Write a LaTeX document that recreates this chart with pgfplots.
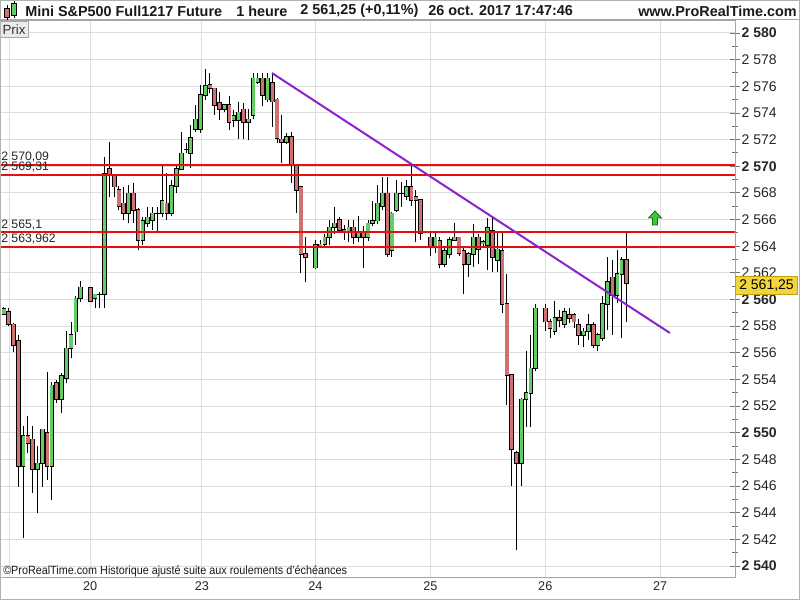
\documentclass[border=0pt]{standalone}
\usepackage{fontspec}
\setmainfont{Liberation Sans}
\usepackage{pgfplots}
\pgfplotsset{compat=1.18}
\usepackage{pgfplotstable}
\definecolor{cgreen}{RGB}{100,204,100}
\definecolor{cred}{RGB}{208,112,112}
\definecolor{tline}{RGB}{140,35,200}
\definecolor{rline}{RGB}{228,16,16}
\definecolor{gridc}{RGB}{222,222,222}
\definecolor{framec}{RGB}{165,165,165}
\definecolor{ybox}{RGB}{242,212,60}
\definecolor{yboxd}{RGB}{190,160,20}
\definecolor{arrowg}{RGB}{60,200,60}
\definecolor{arrowgd}{RGB}{20,110,20}

\pgfplotstableread{
k o h l c
0 2558.91 2559.45 2558.80 2559.31
4 2547.51 2550.51 2542.09 2549.76
7 2547.26 2549.01 2543.96 2547.71
8 2547.71 2550.30 2545.96 2550.26
10 2547.51 2553.84 2544.96 2553.56
12 2552.51 2554.51 2551.51 2554.29
13 2554.09 2557.64 2553.70 2556.34
14 2556.34 2558.34 2555.59 2557.34
15 2557.59 2560.30 2556.59 2560.09
16 2560.09 2561.39 2559.84 2560.91
19 2560.09 2560.40 2559.34 2560.39
20 2560.37 2560.60 2559.34 2560.37
21 2560.40 2570.72 2559.35 2569.42
26 2566.47 2568.60 2565.72 2567.97
29 2564.47 2566.22 2564.10 2565.92
30 2565.72 2566.97 2565.47 2566.17
31 2565.97 2566.97 2565.22 2566.47
32 2566.47 2566.97 2564.97 2566.47
33 2566.47 2570.05 2566.20 2567.42
35 2566.47 2568.97 2566.30 2568.52
36 2568.52 2570.10 2567.97 2569.80
37 2569.80 2572.60 2569.72 2570.97
38 2571.27 2571.72 2570.97 2571.27
39 2570.97 2573.10 2569.85 2572.10
40 2572.80 2574.60 2572.60 2573.52
41 2572.80 2576.10 2572.50 2575.35
42 2575.35 2577.30 2575.00 2576.02
46 2574.27 2574.70 2574.10 2574.60
48 2573.47 2574.20 2572.97 2573.80
49 2573.47 2574.85 2572.05 2574.05
51 2573.30 2574.30 2571.97 2573.52
52 2573.85 2577.00 2573.52 2576.60
53 2576.30 2577.00 2576.20 2576.60
55 2575.00 2577.00 2574.80 2576.60
59 2571.80 2572.47 2571.70 2572.22
65 2562.40 2564.47 2562.30 2564.09
66 2563.97 2564.50 2563.90 2564.14
67 2564.14 2564.90 2563.90 2564.67
68 2564.67 2566.00 2564.10 2565.42
69 2565.42 2566.97 2564.90 2565.72
72 2565.17 2566.00 2564.30 2565.42
74 2564.67 2566.30 2564.30 2565.02
76 2564.67 2566.00 2564.40 2565.72
77 2565.72 2567.40 2565.50 2565.92
78 2565.92 2568.60 2565.70 2567.22
79 2567.02 2569.20 2566.70 2567.97
81 2563.72 2566.60 2563.20 2566.47
82 2566.72 2569.00 2566.60 2567.97
83 2567.97 2568.80 2566.97 2567.97
84 2567.77 2569.00 2567.50 2568.47
90 2563.97 2565.00 2563.47 2564.67
92 2562.67 2563.97 2562.47 2563.67
93 2563.40 2564.70 2563.10 2564.47
94 2564.47 2565.77 2564.40 2564.67
97 2562.67 2563.60 2561.70 2563.40
98 2563.40 2565.70 2562.47 2564.67
100 2564.20 2564.50 2563.90 2564.30
101 2564.10 2566.10 2562.20 2565.40
103 2562.97 2565.10 2562.10 2563.77
108 2547.72 2552.60 2545.97 2552.50
109 2552.50 2556.10 2550.47 2553.00
110 2553.00 2557.34 2550.47 2554.84
111 2554.84 2559.67 2554.60 2559.34
115 2557.64 2559.90 2557.30 2558.60
117 2558.17 2559.34 2557.84 2559.09
121 2557.34 2557.84 2556.47 2557.60
122 2557.60 2558.90 2556.97 2558.09
124 2556.60 2557.50 2556.10 2557.34
125 2557.09 2560.30 2556.90 2559.67
126 2559.67 2563.20 2557.70 2561.34
128 2560.34 2563.70 2559.70 2561.92
129 2561.92 2563.20 2557.10 2562.97
}\greentab

\pgfplotstableread{
k o h l c
1 2559.09 2559.34 2558.00 2558.14
2 2558.14 2558.20 2556.09 2556.59
3 2556.89 2557.33 2545.96 2547.51
5 2549.76 2551.26 2548.46 2549.21
6 2549.51 2550.51 2545.46 2547.26
9 2550.01 2554.59 2546.46 2547.51
11 2553.76 2553.96 2552.26 2552.51
18 2560.89 2560.95 2559.84 2559.89
22 2569.80 2571.85 2567.72 2569.30
23 2569.35 2569.40 2567.72 2568.47
24 2568.22 2568.52 2566.70 2567.02
25 2567.22 2568.47 2565.97 2566.47
27 2567.97 2568.72 2565.72 2566.72
28 2566.72 2566.90 2563.72 2564.47
34 2567.22 2569.47 2565.97 2566.47
43 2576.10 2577.00 2575.47 2575.85
44 2575.85 2575.90 2573.85 2574.60
45 2574.77 2575.60 2573.47 2574.27
47 2574.60 2575.30 2572.72 2573.30
50 2574.27 2574.77 2572.02 2573.30
54 2576.60 2577.00 2574.52 2575.35
56 2576.27 2577.00 2572.97 2574.85
57 2575.02 2575.10 2571.72 2572.10
58 2572.02 2573.85 2570.22 2571.80
60 2572.22 2572.60 2568.72 2570.10
61 2570.10 2570.20 2566.47 2568.22
62 2568.47 2568.50 2561.97 2563.40
63 2563.40 2564.72 2561.35 2563.17
70 2565.97 2566.22 2565.00 2565.22
71 2565.22 2565.60 2564.50 2565.10
73 2565.42 2566.00 2564.20 2564.67
75 2565.10 2565.50 2562.40 2564.67
80 2567.97 2569.20 2563.20 2563.40
85 2568.47 2570.00 2567.00 2567.47
86 2567.72 2568.20 2564.30 2567.47
87 2567.47 2567.50 2564.50 2564.97
89 2564.67 2565.00 2563.30 2563.97
91 2564.42 2564.70 2562.34 2562.67
95 2564.67 2564.70 2563.30 2563.47
96 2563.67 2563.90 2560.40 2562.67
99 2564.67 2564.90 2562.67 2563.77
102 2565.17 2566.10 2562.10 2563.17
104 2563.67 2565.07 2558.97 2559.67
105 2559.67 2561.90 2552.09 2554.34
106 2554.34 2554.40 2545.97 2548.77
107 2548.47 2548.60 2541.20 2547.72
113 2559.34 2559.67 2557.60 2558.34
114 2558.34 2558.50 2557.10 2557.84
116 2558.60 2559.20 2557.90 2558.45
118 2558.84 2559.34 2558.27 2558.60
119 2558.84 2559.00 2557.84 2558.34
120 2558.09 2558.50 2556.60 2557.34
123 2558.09 2558.30 2556.34 2556.60
127 2561.67 2562.97 2557.34 2560.34
130 2562.97 2565.10 2558.34 2561.25
}\redtab

\pgfplotsset{
  candle/.style={only marks, mark=*, mark size=0pt, mark options={draw=none, fill=none},
    error bars/.cd, y dir=plus, y explicit, error mark=none},
}

\begin{document}
\begin{tikzpicture}
\useasboundingbox (0,0) rectangle (600pt,450pt);
\fill[white] (0,0) rectangle (600pt,450pt);
\begin{axis}[
  at={(0pt,17.25pt)}, anchor=south west, scale only axis,
  width=551.25pt, height=417.75pt,
  xmin=-0.835, xmax=152.61, ymin=2539.18, ymax=2580.97,
  clip=false,
  axis line style={draw=framec, line width=0.75pt},
  xtick={18,41.3,65,89,113,137}, xticklabels={20,23,24,25,26,27},
  extra x ticks={1.1}, extra x tick labels={},
  extra x tick style={grid=major, xtick style={draw=none}},
  xmajorgrids, ymajorgrids,
  grid style={draw=gridc, line width=0.75pt},
  xtick style={draw=none},
  ytick={2540,2542,...,2580},
  yticklabels={\textbf{2 540},2 542,2 544,2 546,2 548,\textbf{2 550},2 552,2 554,2 556,2 558,\textbf{2 560},2 562,2 564,2 566,2 568,\textbf{2 570},2 572,2 574,2 576,2 578,\textbf{2 580}},
  minor ytick={2539,2541,...,2579},
  ytick pos=right, yticklabel pos=right,
  ytick align=center, major tick length=7pt, minor tick length=4pt,
  ytick style={draw=black!55, line width=0.6pt},
  tick label style={font=\fontsize{10.5}{12}\selectfont, text=black!85},
  yticklabel style={xshift=-2pt},
  xticklabel style={font=\fontsize{9.5}{11}\selectfont},
]
% wicks
\addplot[candle, error bar style={line width=0.75pt, black}]
  table[x=k, y=l, y error plus expr=\thisrow{h}-\thisrow{l}] \greentab;
\addplot[candle, error bar style={line width=0.75pt, black}]
  table[x=k, y=l, y error plus expr=\thisrow{h}-\thisrow{l}] \redtab;
% body outlines
\addplot[candle, error bar style={line width=3.5pt, black}]
  table[x=k, y expr=\thisrow{o}-0.055, y error plus expr=\thisrow{c}-\thisrow{o}+0.11] \greentab;
\addplot[candle, error bar style={line width=3.5pt, black}]
  table[x=k, y expr=\thisrow{c}-0.055, y error plus expr=\thisrow{o}-\thisrow{c}+0.11] \redtab;
% body fills
\addplot[candle, error bar style={line width=2.35pt, cgreen}]
  table[x=k, y=o, y error plus expr=\thisrow{c}-\thisrow{o}] \greentab;
\addplot[candle, error bar style={line width=2.35pt, cred}]
  table[x=k, y=c, y error plus expr=\thisrow{o}-\thisrow{c}] \redtab;
% horizontal levels
\addplot[rline, line width=1.5pt] coordinates {(-0.835,2570.09) (152.61,2570.09)};
\addplot[rline, line width=1.5pt] coordinates {(-0.835,2569.31) (152.61,2569.31)};
\addplot[rline, line width=1.5pt] coordinates {(-0.835,2565.1) (152.61,2565.1)};
\addplot[rline, line width=1.5pt] coordinates {(-0.835,2563.962) (152.61,2563.962)};
% trend line
\addplot[tline, line width=1.5pt] coordinates {(55.95,2576.99) (139.0,2557.49)};
\end{axis}

\begin{scope}[shift={(0pt,450pt)}, x=0.75pt, y=-0.75pt]
% title bar
\draw[framec, line width=0.75pt] (0,20) -- (800,20);
\draw[black, line width=0.6pt] (7,5) -- (7,20);
\filldraw[fill=cred, draw=black, line width=0.6pt] (4.5,8.5) rectangle (9.5,17.5);
\draw[black, line width=0.6pt] (14,1) -- (14,18);
\filldraw[fill=cgreen, draw=black, line width=0.6pt] (11.5,3.5) rectangle (16.5,15.5);
\begin{scope}[every node/.style={inner sep=0pt, text=black!90, font=\fontsize{10.8}{13}\selectfont\bfseries}]
\node[anchor=west] at (25,11) {Mini S\&P500 Full1217 Future};
\node[anchor=west] at (236,11) {1 heure};
\node[anchor=west] at (300,11) {2 561,25 (+0,11\%)};
\node[anchor=west] at (428,11) {26 oct. 2017 17:47:46};
\node[anchor=east] at (797,11) {www.ProRealTime.com};
\end{scope}
% Prix box
\filldraw[fill=black!8, draw=black!35, line width=0.6pt] (0.5,21) rectangle (28,37);
\node[inner sep=0pt, font=\fontsize{10}{12}\selectfont, text=black!80] at (14,29.5) {Prix};
% level labels
\begin{scope}[every node/.style={inner sep=0pt, anchor=south west, text=black!85, font=\fontsize{9.2}{11}\selectfont}]
\node at (1,162.5) {2 570,09};
\node at (1,172) {2 569,31};
\node at (1,230) {2 565,1};
\node at (1,244) {2 563,962};
\end{scope}
% footer note
\node[anchor=west, inner sep=0pt, text=black!90, font=\fontsize{9}{11}\selectfont] at (3,571) {\scalebox{0.9}[1]{©ProRealTime.com Historique ajusté suite aux roulements d'échéances}};
% price box
\filldraw[fill=ybox, draw=yboxd, line width=0.6pt] (735,276) rectangle (797,294);
\node[anchor=west, inner sep=0pt, font=\fontsize{10.5}{12}\selectfont] at (739,285.5) {2 561,25};
% arrow
\filldraw[fill=arrowg, draw=arrowgd, line width=0.6pt] (655,211) -- (661.5,218) -- (657.5,218) -- (657.5,225) -- (652.5,225) -- (652.5,218) -- (648.5,218) -- cycle;
% border
\draw[black!30, line width=0.75pt] (0.5,0.5) rectangle (799.5,599.5);
\end{scope}
\end{tikzpicture}
\end{document}
